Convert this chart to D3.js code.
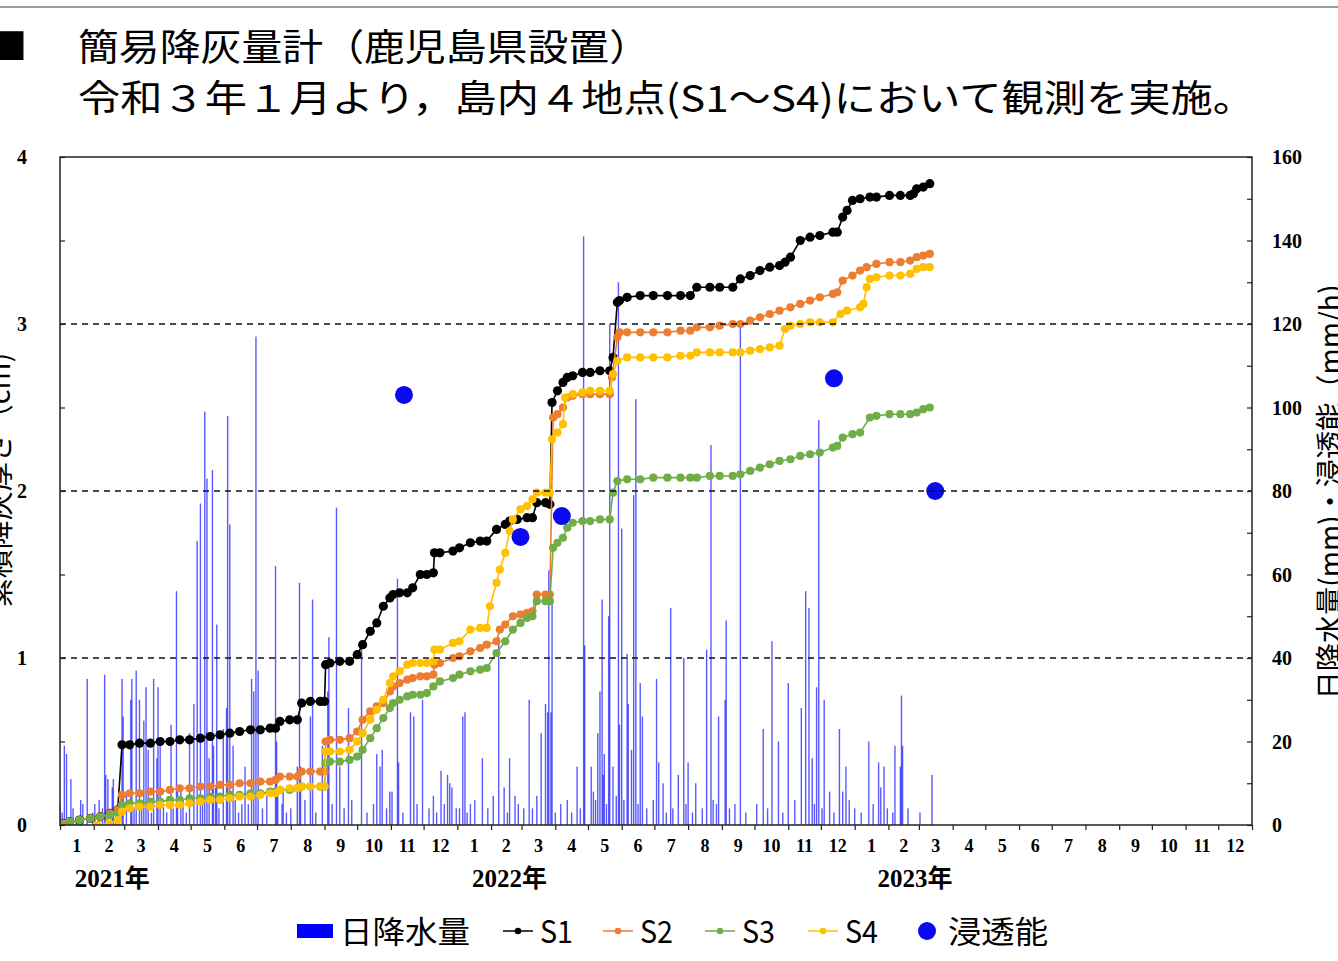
<!DOCTYPE html>
<html><head><meta charset="utf-8">
<script src="https://cdn.jsdelivr.net/npm/d3@7"></script>
<style>body{margin:0;background:#fff;} svg{display:block;}</style>
</head><body>
<svg id="c" width="1338" height="961"></svg>
<script>
// ---- data (day = days since 2021-01-01) ----
const titleLine1 = "簡易降灰量計（鹿児島県設置）";
const titleLine2 = "令和３年１月より，島内４地点(S1～S4)において観測を実施。";
const leftTitle = "累積降灰厚さ（cm)";
const rightTitle = "日降水量(mm)・浸透能（mm/h)";
const monthLabels = ["1","2","3","4","5","6","7","8","9","10","11","12"];
const yearLabels = ["2021年","2022年","2023年"];
const leftTickLabels = [0,1,2,3,4];
const rightTickLabels = [0,20,40,60,80,100,120,140,160];
const gridValues = [1,2,3];

// daily rainfall [day, mm]
const rain = [[0,5],[2,3],[4,19],[6,17],[10,11],[12,4],[15,2],[19,6],[21,5],[25,35],[30,3],[32,5],[36,6],[39,4],[41,36],[42,12],[44,11],[48,9],[49,11],[51,3],[54,5],[57,35],[58,26],[61,7],[65,30],[66,35],[68,4],[70,37],[73,30],[75,6],[77,25],[79,33],[81,18],[84,3],[86,35],[89,16],[90,33],[92,20],[95,5],[98,3],[102,24],[104,4],[107,56],[108,8],[111,8],[113,6],[116,3],[119,22],[123,29],[126,68],[129,77],[131,5],[133,99],[135,83],[137,16],[140,85],[141,19],[143,9],[144,48],[146,4],[150,23],[153,28],[154,98],[156,72],[159,19],[161,6],[164,3],[167,5],[170,14],[173,5],[176,35],[178,32],[180,117],[182,37],[186,4],[190,7],[198,62],[199,20],[200,7],[204,5],[205,8],[208,3],[212,4],[218,14],[220,58],[221,14],[225,6],[230,26],[232,54],[235,3],[241,19],[246,32],[247,45],[250,5],[254,76],[257,14],[261,4],[265,28],[268,6],[277,44],[282,3],[288,5],[291,17],[294,14],[296,18],[300,4],[303,8],[305,8],[310,59],[311,15],[315,3],[322,27],[325,26],[328,5],[333,30],[339,4],[343,7],[346,3],[350,13],[353,5],[356,12],[358,10],[360,9],[364,4],[367,4],[370,26],[372,27],[374,3],[377,5],[381,6],[388,16],[393,4],[398,7],[403,45],[408,9],[411,3],[413,16],[418,7],[421,5],[426,4],[431,30],[434,4],[438,7],[442,22],[446,29],[448,27],[449,61],[451,27],[452,54],[455,3],[460,5],[466,6],[470,3],[475,14],[478,4],[481,141],[482,43],[488,14],[490,8],[492,6],[494,22],[496,32],[498,54],[499,12],[500,17],[502,5],[504,50],[505,120],[508,14],[511,7],[513,130],[514,24],[516,71],[518,6],[521,41],[522,29],[525,18],[527,79],[529,102],[531,5],[533,34],[535,26],[539,4],[545,6],[548,35],[550,15],[554,10],[557,3],[561,52],[563,4],[568,12],[573,40],[575,5],[577,15],[581,3],[584,10],[590,4],[594,42],[598,91],[600,6],[603,5],[605,26],[611,30],[612,49],[615,4],[620,5],[625,119],[630,3],[640,5],[646,23],[650,4],[654,44],[660,20],[664,3],[669,34],[675,6],[681,28],[685,56],[688,52],[691,16],[693,5],[695,33],[697,97],[700,4],[702,30],[707,8],[711,3],[716,23],[719,8],[722,14],[725,6],[730,4],[736,3],[743,20],[747,5],[752,15],[754,9],[757,14],[760,4],[765,3],[767,19],[772,14],[773,31],[774,19],[779,4],[790,3],[801,12]];

// cumulative ash thickness [day, cm]
const s1 = [[3,0.01],[9,0.02],[18,0.03],[28,0.04],[37,0.05],[46,0.07],[53,0.09],[57,0.48],[64,0.48],[73,0.49],[83,0.49],[92,0.50],[101,0.50],[110,0.51],[119,0.51],[129,0.52],[138,0.53],[147,0.54],[156,0.55],[165,0.56],[175,0.57],[184,0.57],[193,0.58],[198,0.58],[202,0.62],[211,0.63],[218,0.63],[222,0.73],[230,0.74],[239,0.74],[243,0.74],[244,0.96],[248,0.97],[257,0.98],[266,0.98],[273,1.02],[278,1.08],[285,1.16],[291,1.21],[297,1.31],[303,1.36],[306,1.38],[312,1.39],[319,1.39],[324,1.42],[331,1.50],[337,1.50],[343,1.51],[344,1.63],[349,1.63],[361,1.64],[367,1.66],[377,1.69],[386,1.70],[392,1.70],[401,1.77],[409,1.80],[413,1.82],[420,1.83],[429,1.84],[434,1.84],[438,1.93],[446,1.93],[450,1.92],[452,2.53],[457,2.60],[462,2.65],[466,2.68],[471,2.69],[480,2.71],[487,2.71],[496,2.72],[505,2.72],[508,2.80],[512,3.13],[514,3.14],[521,3.16],[533,3.17],[545,3.17],[558,3.17],[570,3.17],[579,3.17],[585,3.22],[597,3.22],[606,3.22],[618,3.22],[625,3.27],[634,3.29],[643,3.32],[652,3.34],[661,3.35],[666,3.37],[671,3.40],[680,3.50],[689,3.52],[698,3.53],[710,3.55],[714,3.55],[719,3.64],[723,3.68],[728,3.74],[735,3.75],[744,3.76],[750,3.76],[762,3.77],[772,3.77],[781,3.77],[784,3.78],[787,3.81],[793,3.82],[799,3.84]];
const s2 = [[3,0.01],[9,0.02],[18,0.03],[28,0.04],[37,0.05],[46,0.07],[53,0.09],[57,0.18],[64,0.19],[73,0.19],[83,0.20],[92,0.20],[101,0.21],[110,0.22],[119,0.22],[129,0.23],[138,0.23],[147,0.24],[156,0.24],[165,0.25],[175,0.25],[184,0.26],[193,0.26],[198,0.27],[202,0.29],[211,0.29],[218,0.29],[222,0.32],[230,0.32],[239,0.32],[243,0.32],[244,0.50],[248,0.51],[257,0.51],[266,0.52],[273,0.56],[278,0.63],[285,0.68],[291,0.71],[297,0.73],[303,0.80],[306,0.83],[312,0.85],[319,0.87],[324,0.88],[331,0.89],[337,0.89],[343,0.90],[344,0.96],[349,0.97],[361,1.00],[367,1.01],[377,1.04],[386,1.06],[392,1.08],[401,1.10],[404,1.17],[409,1.20],[416,1.25],[423,1.26],[429,1.27],[434,1.28],[438,1.38],[446,1.38],[450,1.38],[453,2.44],[457,2.46],[462,2.50],[466,2.56],[471,2.57],[480,2.58],[487,2.58],[496,2.58],[505,2.58],[507,2.68],[512,2.92],[514,2.95],[521,2.95],[533,2.95],[545,2.95],[558,2.95],[570,2.96],[579,2.96],[585,2.98],[597,2.98],[606,2.99],[618,3.00],[625,3.00],[634,3.02],[643,3.04],[652,3.06],[661,3.08],[671,3.10],[680,3.12],[689,3.14],[698,3.16],[710,3.18],[714,3.19],[719,3.26],[728,3.29],[735,3.32],[741,3.34],[750,3.36],[762,3.37],[772,3.37],[781,3.38],[787,3.40],[793,3.41],[799,3.42]];
const s3 = [[0,0.00],[9,0.02],[18,0.03],[28,0.04],[37,0.05],[46,0.06],[53,0.07],[57,0.12],[64,0.13],[73,0.13],[83,0.14],[92,0.14],[101,0.15],[110,0.15],[119,0.16],[129,0.16],[138,0.17],[147,0.17],[156,0.18],[165,0.18],[175,0.19],[184,0.19],[193,0.20],[198,0.20],[202,0.21],[211,0.21],[218,0.22],[222,0.23],[230,0.23],[239,0.23],[243,0.23],[244,0.37],[248,0.38],[257,0.38],[266,0.39],[273,0.41],[278,0.45],[285,0.52],[291,0.58],[297,0.64],[303,0.70],[306,0.73],[312,0.75],[319,0.77],[324,0.78],[331,0.78],[337,0.79],[343,0.83],[349,0.86],[361,0.88],[367,0.90],[377,0.92],[386,0.93],[392,0.94],[401,1.03],[409,1.10],[416,1.17],[423,1.21],[429,1.24],[434,1.25],[438,1.34],[446,1.34],[450,1.34],[453,1.66],[457,1.69],[462,1.72],[466,1.78],[471,1.81],[480,1.82],[487,1.82],[496,1.83],[505,1.83],[508,1.99],[512,2.06],[521,2.07],[533,2.07],[545,2.08],[558,2.08],[570,2.08],[579,2.08],[585,2.08],[597,2.09],[606,2.09],[618,2.09],[625,2.10],[634,2.12],[643,2.14],[652,2.16],[661,2.18],[671,2.19],[680,2.21],[689,2.22],[698,2.23],[710,2.26],[714,2.27],[719,2.32],[728,2.34],[735,2.35],[744,2.44],[750,2.45],[762,2.46],[772,2.46],[781,2.46],[787,2.47],[793,2.49],[799,2.50]];
const s4 = [[34,0.00],[45,0.01],[53,0.03],[57,0.08],[64,0.10],[73,0.11],[83,0.11],[92,0.12],[101,0.12],[110,0.12],[119,0.13],[129,0.14],[138,0.15],[147,0.15],[156,0.16],[165,0.17],[175,0.17],[184,0.18],[193,0.19],[198,0.19],[202,0.21],[211,0.22],[218,0.22],[222,0.23],[230,0.23],[239,0.23],[243,0.23],[244,0.44],[248,0.44],[257,0.44],[266,0.45],[273,0.50],[278,0.55],[285,0.63],[291,0.69],[297,0.75],[303,0.85],[306,0.89],[312,0.92],[319,0.96],[324,0.97],[331,0.97],[337,0.97],[343,0.98],[344,1.05],[349,1.05],[361,1.09],[367,1.10],[377,1.17],[386,1.18],[392,1.18],[395,1.31],[401,1.45],[404,1.53],[409,1.63],[413,1.76],[416,1.83],[423,1.89],[429,1.91],[434,1.95],[438,1.99],[446,1.99],[450,1.99],[452,2.31],[457,2.35],[462,2.40],[464,2.56],[471,2.58],[480,2.59],[487,2.60],[496,2.60],[505,2.60],[508,2.70],[512,2.78],[521,2.80],[533,2.80],[545,2.80],[558,2.80],[570,2.81],[579,2.81],[585,2.83],[597,2.83],[606,2.83],[618,2.83],[625,2.83],[634,2.84],[643,2.85],[652,2.86],[661,2.87],[666,2.97],[671,2.99],[680,3.00],[689,3.01],[698,3.01],[710,3.01],[717,3.06],[723,3.08],[735,3.10],[738,3.12],[741,3.22],[744,3.27],[750,3.28],[762,3.29],[772,3.29],[781,3.30],[787,3.33],[793,3.34],[799,3.34]];

// infiltration capacity [day, mm/h]
const infiltration = [[316,103],[423,69],[461,74],[711,107],[804,80]];

const seriesNames = ["S1","S2","S3","S4"];
const seriesColors = ["#000000","#ED7D31","#70AD47","#FFC000"];
const rainColor = "#0000FF";
const dotColor = "#0A0AF0";

// ---- drawing ----
const svg = d3.select("#c");
const start = new Date(2021,0,1);
const dayDate = d => d3.timeDay.offset(start, d);
const L = 60, R = 1252, T = 157, B = 825;
const x = d3.scaleTime().domain([start, new Date(2024,0,1)]).range([L, R]);
const yL = d3.scaleLinear().domain([0,4]).range([B, T]);
const yR = d3.scaleLinear().domain([0,160]).range([B, T]);

const serif = "'Liberation Serif','Times New Roman','Noto Sans CJK JP',serif";
const cjk = "'Noto Sans CJK JP','Noto Sans',sans-serif";

// top rule
svg.append("line").attr("x1",0).attr("x2",1338).attr("y1",7).attr("y2",7)
  .attr("stroke","#9a9a9a").attr("stroke-width",2);

// titles
svg.append("text").attr("x",-9).attr("y",60).attr("font-family",cjk).attr("font-size",36).text("■");
svg.append("text").attr("x",78).attr("y",61).attr("font-family",cjk).attr("font-size",37)
  .attr("textLength",572).attr("lengthAdjust","spacingAndGlyphs").text(titleLine1);
svg.append("text").attr("x",78).attr("y",112).attr("font-family",cjk).attr("font-size",37)
  .attr("textLength",1177).attr("lengthAdjust","spacingAndGlyphs").text(titleLine2);

// rain bars
svg.append("clipPath").attr("id","pc").append("rect")
  .attr("x",L).attr("y",T).attr("width",R-L).attr("height",B-T);
const plot = svg.append("g").attr("clip-path","url(#pc)");
plot.append("g").selectAll("rect").data(rain).join("rect")
  .attr("x", d => x(dayDate(d[0])) - 0.7)
  .attr("width", 1.4)
  .attr("y", d => yR(d[1]))
  .attr("height", d => B - yR(d[1]))
  .attr("fill", rainColor).attr("fill-opacity", 0.65);

// dashed grid
svg.append("g").selectAll("line").data(gridValues).join("line")
  .attr("x1",L).attr("x2",R).attr("y1",d=>yL(d)).attr("y2",d=>yL(d))
  .attr("stroke","#111").attr("stroke-width",1.4).attr("stroke-dasharray","6,5");

// series
const allSeries = [s1,s2,s3,s4];
const line = d3.line().x(d => x(dayDate(d[0]))).y(d => yL(d[1]));
allSeries.forEach((s,i) => {
  const g = plot.append("g");
  g.append("path").attr("d", line(s)).attr("fill","none")
    .attr("stroke", seriesColors[i]).attr("stroke-width", 1.6);
  g.selectAll("circle").data(s).join("circle")
    .attr("cx", d => x(dayDate(d[0]))).attr("cy", d => yL(d[1]))
    .attr("r", i === 0 ? 4.6 : 4.1).attr("fill", seriesColors[i]);
});

// infiltration
plot.append("g").selectAll("circle").data(infiltration).join("circle")
  .attr("cx", d => x(dayDate(d[0]))).attr("cy", d => yR(d[1]))
  .attr("r", 9).attr("fill", dotColor);

// frame
svg.append("rect").attr("x",L).attr("y",T).attr("width",R-L).attr("height",B-T)
  .attr("fill","none").attr("stroke","#222").attr("stroke-width",1.5);

// left axis (inward ticks)
const axL = d3.axisLeft(yL).tickValues(d3.range(0,4.01,0.5)).tickSize(-5).tickFormat("");
svg.append("g").attr("transform",`translate(${L},0)`).call(axL)
  .call(g => { g.select(".domain").remove(); g.selectAll("line").attr("stroke","#222").attr("stroke-width",1.2); });
svg.append("g").selectAll("text").data(leftTickLabels).join("text")
  .attr("x",22).attr("y",d=>yL(d)+7).attr("text-anchor","middle")
  .attr("font-family",serif).attr("font-weight","bold").attr("font-size",20).text(d=>d);

// right axis
const axR = d3.axisRight(yR).tickValues(d3.range(0,161,10)).tickSize(-5).tickFormat("");
svg.append("g").attr("transform",`translate(${R},0)`).call(axR)
  .call(g => { g.select(".domain").remove(); g.selectAll("line").attr("stroke","#222").attr("stroke-width",1.2); });
svg.append("g").selectAll("text").data(rightTickLabels).join("text")
  .attr("x",1272).attr("y",d=>yR(d)+7).attr("text-anchor","start")
  .attr("font-family",serif).attr("font-weight","bold").attr("font-size",20).text(d=>d);

// bottom axis (month ticks)
const axB = d3.axisBottom(x).ticks(d3.timeMonth.every(1)).tickSize(5).tickFormat("");
svg.append("g").attr("transform",`translate(0,${B})`).call(axB)
  .call(g => { g.select(".domain").remove(); g.selectAll("line").attr("stroke","#222").attr("stroke-width",1.2); });

const months = d3.timeMonth.range(start, new Date(2024,0,1));
svg.append("g").selectAll("text").data(months).join("text")
  .attr("x", d => (x(d) + x(d3.timeMonth.offset(d,1)))/2)
  .attr("y", 852).attr("text-anchor","middle")
  .attr("font-family",serif).attr("font-weight","bold").attr("font-size",18)
  .text(d => monthLabels[d.getMonth()]);

svg.append("g").selectAll("text").data(yearLabels).join("text")
  .attr("x", (d,i) => x(new Date(2021+i,1,18)) + (i===2?8:0))
  .attr("y", 887).attr("text-anchor","middle")
  .attr("font-family",serif).attr("font-weight","bold").attr("font-size",25).text(d=>d);

// axis titles
svg.append("text").attr("transform","translate(-3,480) rotate(-90)")
  .attr("text-anchor","middle").attr("dominant-baseline","central")
  .attr("font-family",cjk).attr("font-size",29).text(leftTitle);
svg.append("text").attr("transform","translate(1328,492) rotate(-90)")
  .attr("text-anchor","middle").attr("dominant-baseline","central")
  .attr("font-family",cjk).attr("font-size",29)
  .attr("textLength",415).attr("lengthAdjust","spacingAndGlyphs").text(rightTitle);

// legend
const lg = svg.append("g").attr("font-family",cjk).attr("font-size",31);
const ly = 931;
lg.append("rect").attr("x",297).attr("y",ly-7).attr("width",36).attr("height",14).attr("fill",rainColor);
lg.append("text").attr("x",340).attr("y",ly+12).attr("textLength",130).attr("lengthAdjust","spacingAndGlyphs").text("日降水量");
const legX = [503,603,705,808];
seriesNames.forEach((n,i) => {
  const x0 = legX[i];
  lg.append("line").attr("x1",x0).attr("x2",x0+30).attr("y1",ly).attr("y2",ly)
    .attr("stroke",seriesColors[i]).attr("stroke-width",1.5);
  lg.append("circle").attr("cx",x0+15).attr("cy",ly).attr("r",3.3).attr("fill",seriesColors[i]);
  lg.append("text").attr("x",x0+37).attr("y",ly+12).attr("textLength",33)
    .attr("lengthAdjust","spacingAndGlyphs").text(n);
});
lg.append("circle").attr("cx",927).attr("cy",ly).attr("r",9).attr("fill",dotColor);
lg.append("text").attr("x",948).attr("y",ly+12).attr("textLength",100).attr("lengthAdjust","spacingAndGlyphs").text("浸透能");
</script>
</body></html>
